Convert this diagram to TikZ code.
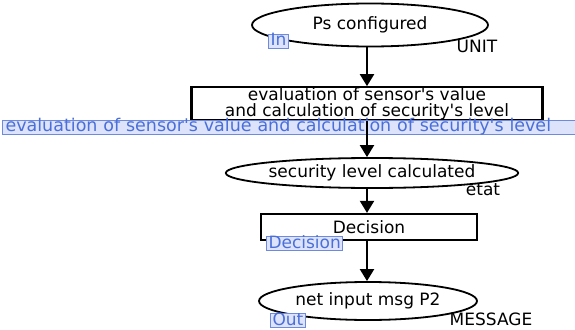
\documentclass[tikz,border=0pt]{standalone}
\usepackage{fontspec}
\setmainfont{DejaVu Sans}
\usepackage{tikz}
\usetikzlibrary{shapes.geometric, arrows.meta, positioning}
\definecolor{tagfill}{RGB}{221, 227, 251}
\definecolor{tagborder}{RGB}{110, 138, 224}
\definecolor{tagtext}{RGB}{74, 111, 216}
\newcommand{\apo}{\textquotesingle}

\begin{document}
\begin{tikzpicture}[x=1pt, y=-1pt, font=\fontsize{17}{19}\selectfont,
    place/.style={draw, ellipse, line width=1.8pt, inner sep=0pt},
    transition/.style={draw, rectangle, line width=2.2pt, inner sep=0pt, align=center},
    tag/.style={draw=tagborder, fill=tagfill, text=tagtext, line width=1pt, inner xsep=2pt, inner ysep=0pt, text height=11.5pt, text depth=2.5pt},
    arc/.style={-{Triangle[length=12pt, width=14pt]}, line width=2pt}]
        \useasboundingbox (0, 0) rectangle (575, 329);

        % Places
        \node[place, minimum width=236pt, minimum height=43pt] (ps) at (370, 25) {Ps configured};
        \node[tag, anchor=north west] (psin) at (268, 34) {In};
        \node (unit) at (477, 46) {UNIT};

        \node[place, minimum width=282pt, minimum height=30pt] (level) at (372, 173) {security level calculated};
        \node (etat) at (483, 190) {etat};

        \node[place, minimum width=218pt, minimum height=38pt] (msg) at (368, 301) {net input msg P2};
        \node[tag, anchor=north west] (msgout) at (270, 313) {Out};
        \node (message) at (491, 319) {MESSAGE};

        % Transitions
        \node[transition, minimum width=351pt, minimum height=31pt, font=\fontsize{17}{16}\selectfont] (eval) at (367, 103.5) {evaluation of sensor\apo s value\\and calculation of security\apo s level};
        \node[tag, anchor=north west, text width=567pt, inner xsep=3pt, align=left, font=\fontsize{17.5}{19}\selectfont] (evallabel) at (2, 119.5) {evaluation of sensor\apo s value and calculation of security\apo s level};

        \node[transition, minimum width=216pt, minimum height=26pt] (dec) at (369, 227) {Decision};
        \node[tag, anchor=north west] (declabel) at (266, 236) {Decision};

        % Arcs
        \draw[arc] (ps.south -| eval) -- (eval.north);
        \draw[arc] (eval.south) -- (eval.south |- level.north);
        \draw[arc] (level.south -| eval) -- (dec.north -| eval);
        \draw[arc] (dec.south -| eval) -- (msg.north -| eval);
\end{tikzpicture}
\end{document}
